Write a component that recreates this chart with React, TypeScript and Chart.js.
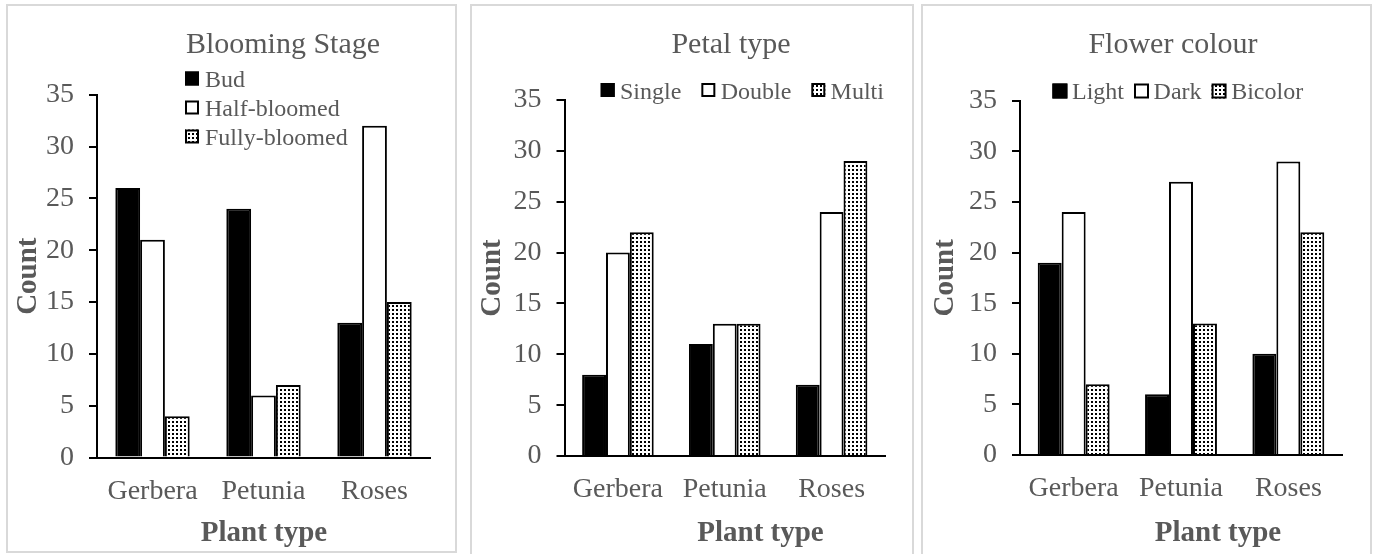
import React, { useEffect, useRef } from 'react';
import { Chart, registerables } from 'chart.js';

Chart.register(...registerables);

// ---------- data ----------
const categories = ['Gerbera', 'Petunia', 'Roses'];

const stageTitle = 'Blooming Stage';
const stageLabels = ['Bud', 'Half-bloomed', 'Fully-bloomed'];
const budCounts = [26, 24, 13];
const halfBloomedCounts = [21, 6, 32];
const fullyBloomedCounts = [4, 7, 15];

const petalTitle = 'Petal type';
const petalLabels = ['Single', 'Double', 'Multi'];
const singleCounts = [8, 11, 7];
const doubleCounts = [20, 13, 24];
const multiCounts = [22, 13, 29];

const colourTitle = 'Flower colour';
const colourLabels = ['Light', 'Dark', 'Bicolor'];
const lightCounts = [19, 6, 10];
const darkCounts = [24, 27, 29];
const bicolorCounts = [7, 13, 22];

const yAxisMin = 0;
const yAxisMax = 35;
const yAxisStep = 5;
const xAxisTitle = 'Plant type';
const yAxisTitle = 'Count';

// ---------- style ----------
const FONT = "'Liberation Serif', 'Times New Roman', serif";
const TEXT = '#595959';
const H = 554;

type LegendLayout = {
  vertical: boolean;
  x: number;
  y: number;
  box: number;
  boxDrop: number;
  textOffset: number;
  gap: number;
  step: number;
};

type PanelSpec = {
  left: number;
  width: number;
  title: string;
  labels: string[];
  series: number[][];
  area: { left: number; right: number; top: number; bottom: number };
  titleX: number;
  xTitleX: number;
  yTitlePad: number;
  legend: LegendLayout;
};

const panels: PanelSpec[] = [
  {
    left: 7,
    width: 449,
    title: stageTitle,
    labels: stageLabels,
    series: [budCounts, halfBloomedCounts, fullyBloomedCounts],
    area: { left: 90, right: 423, top: 94.7, bottom: 457.6 },
    titleX: 276,
    xTitleX: 257,
    yTitlePad: 4.6,
    legend: { vertical: true, x: 178, y: 86.5, box: 14, boxDrop: 15, textOffset: 20, gap: 0, step: 29 },
  },
  {
    left: 471,
    width: 442,
    title: petalTitle,
    labels: petalLabels,
    series: [singleCounts, doubleCounts, multiCounts],
    area: { left: 93.5, right: 414, top: 100, bottom: 456 },
    titleX: 260,
    xTitleX: 289.5,
    yTitlePad: 4.6,
    legend: { vertical: false, x: 129.7, y: 99, box: 14, boxDrop: 16, textOffset: 19.3, gap: 20, step: 0 },
  },
  {
    left: 922,
    width: 448,
    title: colourTitle,
    labels: colourLabels,
    series: [lightCounts, darkCounts, bicolorCounts],
    area: { left: 98, right: 420, top: 100.7, bottom: 455 },
    titleX: 251,
    xTitleX: 296,
    yTitlePad: 6,
    legend: { vertical: false, x: 130.4, y: 99, box: 15, boxDrop: 15.5, textOffset: 19.6, gap: 10, step: 0 },
  },
];

function makeDotPattern(): CanvasPattern | string {
  const c = document.createElement('canvas');
  c.width = 4;
  c.height = 4;
  const g = c.getContext('2d');
  if (!g) return '#bbbbbb';
  g.fillStyle = '#ffffff';
  g.fillRect(0, 0, 4, 4);
  g.fillStyle = '#000000';
  g.fillRect(1, 1, 2, 2);
  return g.createPattern(c, 'repeat') || '#bbbbbb';
}

const decorPlugin = {
  id: 'panelDecor',
  afterDraw(chart: any, _args: any, opts: any) {
    const ctx: CanvasRenderingContext2D = chart.ctx;
    ctx.save();
    ctx.fillStyle = TEXT;
    ctx.textBaseline = 'alphabetic';
    ctx.textAlign = 'center';
    ctx.font = `30px ${FONT}`;
    ctx.fillText(opts.title, opts.titleX, 53);
    ctx.font = `bold 29px ${FONT}`;
    ctx.fillText(opts.xTitle, opts.xTitleX, 541);

    const L = opts.legend;
    ctx.font = `24px ${FONT}`;
    ctx.textAlign = 'left';
    let x = L.x;
    let y = L.y;
    chart.data.datasets.forEach((ds: any) => {
      const top = y - L.boxDrop;
      ctx.fillStyle = ds.backgroundColor;
      ctx.fillRect(x, top, L.box, L.box);
      ctx.strokeStyle = '#000000';
      ctx.lineWidth = 2;
      ctx.strokeRect(x + 1, top + 1, L.box - 2, L.box - 2);
      ctx.fillStyle = TEXT;
      ctx.fillText(ds.label, x + L.textOffset, y);
      if (L.vertical) y += L.step;
      else x += L.textOffset + ctx.measureText(ds.label).width + L.gap;
    });
    ctx.restore();
  },
};

function Panel({ spec }: { spec: PanelSpec }) {
  const ref = useRef<HTMLCanvasElement>(null);

  useEffect(() => {
    const canvas = ref.current;
    if (!canvas) return;
    const fills: any[] = ['#000000', '#ffffff', makeDotPattern()];
    const chart = new Chart(canvas, {
      type: 'bar',
      data: {
        labels: categories,
        datasets: spec.series.map((values, i) => ({
          label: spec.labels[i],
          data: values,
          backgroundColor: fills[i],
          borderColor: '#000000',
          borderWidth: 2,
          categoryPercentage: 0.67,
          barPercentage: 1.0,
        })),
      },
      options: {
        animation: false,
        responsive: false,
        maintainAspectRatio: false,
        layout: {
          padding: {
            left: 0,
            top: spec.area.top,
            right: spec.width - spec.area.right,
            bottom: 0,
          },
        },
        plugins: {
          legend: { display: false },
          title: { display: false },
          tooltip: { enabled: false },
          panelDecor: {
            title: spec.title,
            titleX: spec.titleX,
            xTitle: xAxisTitle,
            xTitleX: spec.xTitleX,
            legend: spec.legend,
          },
        } as any,
        scales: {
          x: {
            ticks: {
              color: TEXT,
              font: { size: 28, family: FONT },
              padding: 17,
              maxRotation: 0,
              autoSkip: false,
            },
            grid: { display: false, drawTicks: false },
            border: { display: true, color: '#000000', width: 2, z: 1 },
            afterFit: (s: any) => {
              s.height = H - spec.area.bottom;
            },
          },
          y: {
            min: yAxisMin,
            max: yAxisMax,
            ticks: {
              stepSize: yAxisStep,
              color: TEXT,
              font: { size: 28, family: FONT },
              padding: 15,
            },
            grid: {
              display: true,
              drawOnChartArea: false,
              drawTicks: true,
              tickLength: 8,
              tickWidth: 2,
              tickColor: '#000000',
              color: '#000000',
              lineWidth: 2,
            },
            border: { display: true, color: '#000000', width: 2, z: 1 },
            title: {
              display: true,
              text: yAxisTitle,
              color: TEXT,
              font: { size: 29, weight: 'bold', family: FONT },
              padding: { top: spec.yTitlePad, bottom: 0 },
            },
            afterFit: (s: any) => {
              s.width = spec.area.left;
            },
          },
        },
      } as any,
      plugins: [decorPlugin as any],
    });
    return () => chart.destroy();
  }, [spec]);

  return (
    <canvas
      ref={ref}
      width={spec.width}
      height={H}
      style={{ position: 'absolute', left: spec.left, top: 0, width: spec.width, height: H }}
    />
  );
}

const frame = (left: number, width: number, height: number): React.CSSProperties => ({
  position: 'absolute',
  left,
  top: 4,
  width,
  height,
  border: '2px solid #d9d9d9',
  boxSizing: 'border-box',
});

export default function App() {
  return (
    <div
      style={{
        position: 'absolute',
        left: 0,
        top: 0,
        width: 1375,
        height: H,
        overflow: 'hidden',
        background: '#ffffff',
      }}
    >
      <div style={frame(6, 451, 549)} />
      <div style={frame(470, 444, 560)} />
      <div style={frame(921, 451, 560)} />
      {panels.map((p, i) => (
        <Panel key={i} spec={p} />
      ))}
    </div>
  );
}
